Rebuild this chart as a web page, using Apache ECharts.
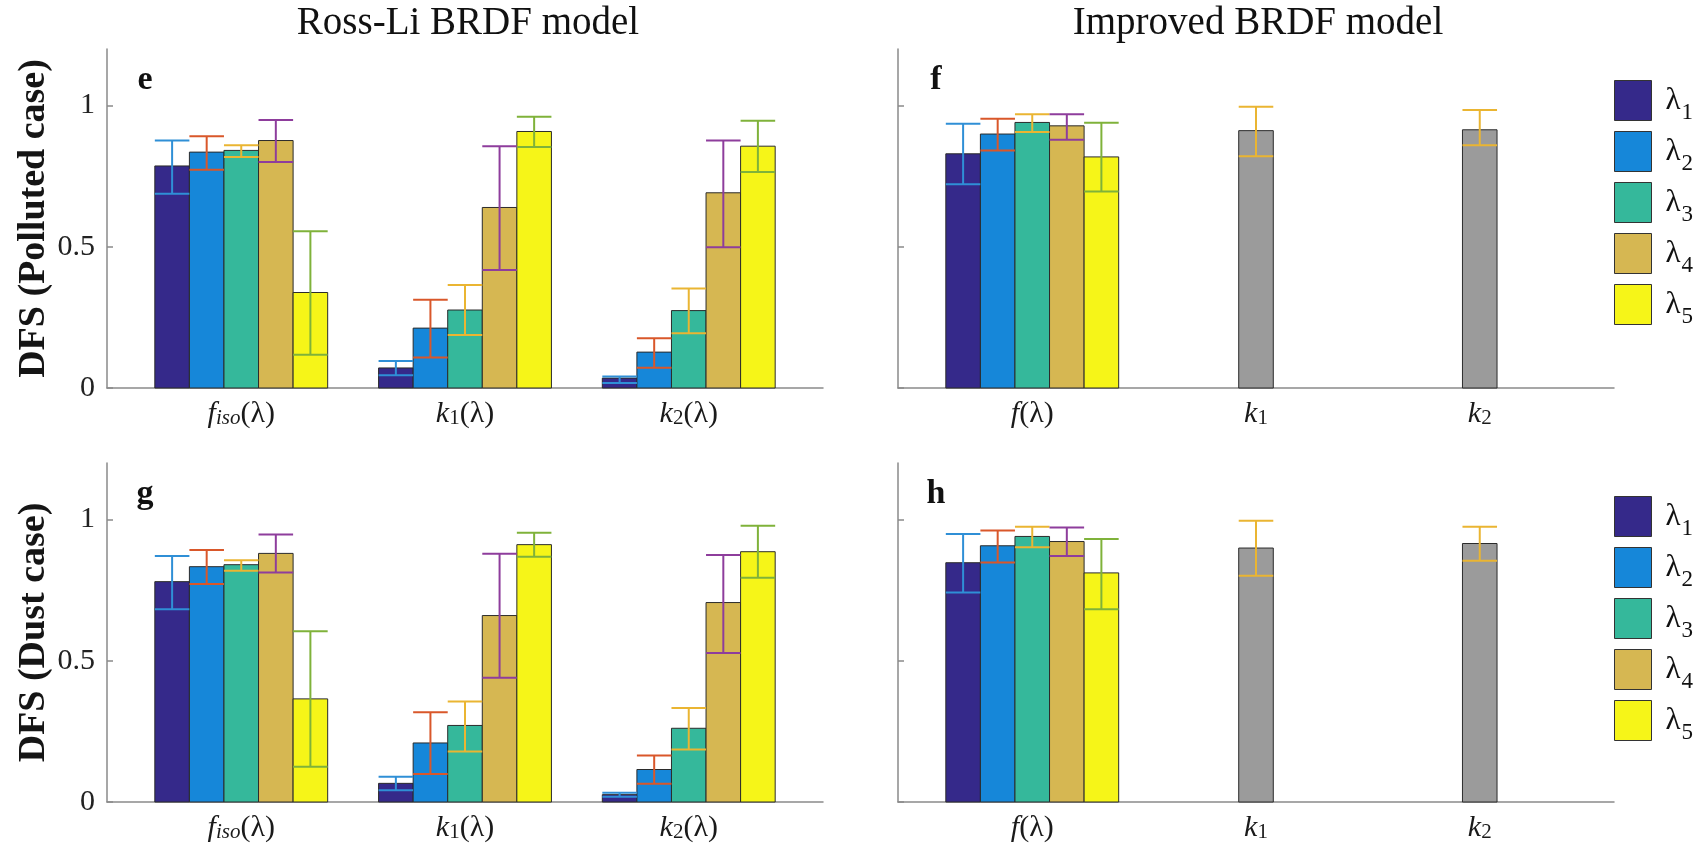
<!DOCTYPE html>
<html>
<head>
<meta charset="utf-8">
<script src="https://cdn.jsdelivr.net/npm/echarts@6/dist/echarts.min.js"></script>
<style>
html,body{margin:0;padding:0;background:#fff;}
#chart{width:1706px;height:851px;}
</style>
</head>
<body>
<div id="chart"></div>
<script>
// ---------------- data ----------------
const wavelengths = ['λ1', 'λ2', 'λ3', 'λ4', 'λ5'];
const categoryPositions = [1, 2, 3];
const rossLiLabels = ['{it|f}{subi|iso}{n|(λ)}', '{it|k}{subn|1}{n|(λ)}', '{it|k}{subn|2}{n|(λ)}'];
const improvedLabels = ['{it|f}{n|(λ)}', '{it|k}{subn|1}', '{it|k}{subn|2}'];
const yTickValues = [0, 0.5, 1];
const yTickLabels = ['0', '0.5', '1'];

// Polluted case, Ross-Li model: rows = wavelengths, columns = f_iso, k1, k2
const pollutedRossLiValue = [
  [0.786, 0.071, 0.035],
  [0.835, 0.212, 0.127],
  [0.841, 0.276, 0.274],
  [0.876, 0.639, 0.691],
  [0.338, 0.908, 0.856]
];
const pollutedRossLiLow = [
  [0.688, 0.045, 0.018],
  [0.773, 0.108, 0.072],
  [0.818, 0.188, 0.194],
  [0.800, 0.418, 0.498],
  [0.118, 0.853, 0.765]
];
const pollutedRossLiHigh = [
  [0.876, 0.096, 0.041],
  [0.891, 0.312, 0.176],
  [0.859, 0.365, 0.352],
  [0.949, 0.856, 0.876],
  [0.555, 0.960, 0.946]
];
// Polluted case, improved model
const pollutedImprovedF = [0.829, 0.899, 0.940, 0.928, 0.818];
const pollutedImprovedFLow = [0.721, 0.841, 0.906, 0.879, 0.696];
const pollutedImprovedFHigh = [0.935, 0.953, 0.969, 0.969, 0.939];
const pollutedImprovedK = [0.911, 0.914];
const pollutedImprovedKLow = [0.820, 0.859];
const pollutedImprovedKHigh = [0.996, 0.984];

// Dust case, Ross-Li model
const dustRossLiValue = [
  [0.780, 0.066, 0.026],
  [0.833, 0.209, 0.115],
  [0.840, 0.271, 0.261],
  [0.880, 0.660, 0.706],
  [0.365, 0.911, 0.886]
];
const dustRossLiLow = [
  [0.682, 0.042, 0.019],
  [0.772, 0.099, 0.065],
  [0.819, 0.179, 0.186],
  [0.812, 0.440, 0.527],
  [0.125, 0.868, 0.794]
];
const dustRossLiHigh = [
  [0.871, 0.089, 0.033],
  [0.892, 0.318, 0.165],
  [0.856, 0.356, 0.333],
  [0.947, 0.879, 0.874],
  [0.604, 0.953, 0.978]
];
// Dust case, improved model
const dustImprovedF = [0.847, 0.907, 0.940, 0.922, 0.811];
const dustImprovedFLow = [0.742, 0.848, 0.902, 0.871, 0.682];
const dustImprovedFHigh = [0.949, 0.961, 0.974, 0.972, 0.931];
const dustImprovedK = [0.899, 0.915];
const dustImprovedKLow = [0.801, 0.854];
const dustImprovedKHigh = [0.996, 0.974];

// ---------------- styles ----------------
const FONT = '"Liberation Serif", "Times New Roman", Times, serif';
const barColors = ['#35298a', '#1687d9', '#35b89b', '#d6b752', '#f6f518'];
const errColors = ['#2f8fd6', '#d9572a', '#eab532', '#8e3d9c', '#7fb23a'];
const grayColor = '#9b9b9b';
const grayErrColor = '#eab532';
const BAR_WIDTH = 0.1545;
const AXIS_COLOR = '#8a8a8a';

const gridLefts = [107, 898];
const gridTops = [49, 463];

function barErrorSeries(name, grid, cats, vals, lows, highs, slot, nSlots, fill, errColor) {
  return {
    type: 'custom',
    name: name,
    xAxisIndex: grid,
    yAxisIndex: grid,
    itemStyle: { color: fill, borderColor: '#2b2b2b', borderWidth: 1 },
    encode: { x: 0, y: 1 },
    data: cats.map((c, j) => [c, vals[j], lows[j], highs[j]]),
    renderItem: function (params, api) {
      const c = api.value(0), v = api.value(1), lo = api.value(2), hi = api.value(3);
      const cx = c + (slot - (nSlots - 1) / 2) * BAR_WIDTH;
      const tl = api.coord([cx - BAR_WIDTH / 2, v]);
      const br = api.coord([cx + BAR_WIDTH / 2, 0]);
      const top = api.coord([cx, hi]);
      const bot = api.coord([cx, lo]);
      const hw = (br[0] - tl[0]) / 2;
      const mid = top[0];
      const es = { stroke: errColor, lineWidth: 2 };
      return {
        type: 'group',
        children: [
          { type: 'rect', shape: { x: tl[0], y: tl[1], width: br[0] - tl[0], height: br[1] - tl[1] },
            style: { fill: fill, stroke: '#2b2b2b', lineWidth: 1 } },
          { type: 'line', shape: { x1: mid, y1: top[1], x2: mid, y2: bot[1] }, style: es, z2: 10 },
          { type: 'line', shape: { x1: mid - hw, y1: top[1], x2: mid + hw, y2: top[1] }, style: es, z2: 10 },
          { type: 'line', shape: { x1: mid - hw, y1: bot[1], x2: mid + hw, y2: bot[1] }, style: es, z2: 10 }
        ]
      };
    }
  };
}

const xRich = {
  it: { fontSize: 30, fontStyle: 'italic', fontFamily: FONT, color: '#1a1a1a', lineHeight: 30 },
  n: { fontSize: 30, fontFamily: FONT, color: '#1a1a1a', lineHeight: 30 },
  subi: { fontSize: 21, fontStyle: 'italic', fontFamily: FONT, color: '#1a1a1a', lineHeight: 20, padding: [14, 0, 0, 0], verticalAlign: 'bottom' },
  subn: { fontSize: 21, fontFamily: FONT, color: '#1a1a1a', lineHeight: 20, padding: [14, 0, 0, 0], verticalAlign: 'bottom' }
};

const grids = [], xAxes = [], yAxes = [];
const panels = [
  { labels: rossLiLabels, left: true, yName: 'DFS (Polluted case)' },
  { labels: improvedLabels, left: false, yName: '' },
  { labels: rossLiLabels, left: true, yName: 'DFS (Dust case)' },
  { labels: improvedLabels, left: false, yName: '' }
];
panels.forEach((p, g) => {
  grids.push({ left: gridLefts[g % 2], top: gridTops[Math.floor(g / 2)], width: 716, height: 339 });
  xAxes.push({
    gridIndex: g, type: 'value', min: 0.4, max: 3.6,
    axisLine: { show: true, onZero: false, lineStyle: { color: AXIS_COLOR, width: 1.5 } },
    axisTick: { show: false },
    splitLine: { show: false },
    axisLabel: {
      customValues: categoryPositions, margin: 11, rich: xRich, fontFamily: FONT,
      formatter: (v) => p.labels[categoryPositions.indexOf(Math.round(v))]
    }
  });
  yAxes.push({
    gridIndex: g, type: 'value', min: 0, max: 1.2,
    axisLine: { show: true, onZero: false, lineStyle: { color: AXIS_COLOR, width: 1.5 } },
    axisTick: { show: true, inside: true, length: 6, customValues: yTickValues, lineStyle: { color: AXIS_COLOR, width: 1.5 } },
    axisLabel: {
      show: p.left, customValues: yTickValues, margin: 12,
      formatter: (v) => yTickLabels[yTickValues.indexOf(v)],
      fontSize: 30, fontFamily: FONT, color: '#222'
    },
    splitLine: { show: false },
    name: p.yName, nameLocation: 'middle', nameGap: 52,
    nameTextStyle: { fontSize: 38, fontWeight: 'bold', fontFamily: FONT, color: '#151515' }
  });
});

const series = [];
wavelengths.forEach((w, i) => {
  series.push(barErrorSeries(w, 0, categoryPositions, pollutedRossLiValue[i], pollutedRossLiLow[i], pollutedRossLiHigh[i], i, 5, barColors[i], errColors[i]));
  series.push(barErrorSeries(w, 1, [categoryPositions[0]], [pollutedImprovedF[i]], [pollutedImprovedFLow[i]], [pollutedImprovedFHigh[i]], i, 5, barColors[i], errColors[i]));
  series.push(barErrorSeries(w, 2, categoryPositions, dustRossLiValue[i], dustRossLiLow[i], dustRossLiHigh[i], i, 5, barColors[i], errColors[i]));
  series.push(barErrorSeries(w, 3, [categoryPositions[0]], [dustImprovedF[i]], [dustImprovedFLow[i]], [dustImprovedFHigh[i]], i, 5, barColors[i], errColors[i]));
});
series.push(barErrorSeries('k', 1, categoryPositions.slice(1), pollutedImprovedK, pollutedImprovedKLow, pollutedImprovedKHigh, 0, 1, grayColor, grayErrColor));
series.push(barErrorSeries('k', 3, categoryPositions.slice(1), dustImprovedK, dustImprovedKLow, dustImprovedKHigh, 0, 1, grayColor, grayErrColor));

const legendTops = [77, 493];
const legends = legendTops.map((t) => ({
  orient: 'vertical', left: 1614, top: t, padding: 0,
  itemWidth: 37, itemHeight: 40, itemGap: 4, icon: 'rect',
  data: wavelengths.map((n, i) => ({ name: n, itemStyle: { color: barColors[i], borderColor: '#333', borderWidth: 1 } })),
  formatter: (n) => '{l|λ}{s|' + n.slice(1) + '}',
  textStyle: {
    fontFamily: FONT,
    height: 40,
    lineHeight: 40,
    rich: {
      l: { fontSize: 31, fontFamily: FONT, color: '#111', lineHeight: 40, padding: [0, 0, 0, 9] },
      s: { fontSize: 23, fontFamily: FONT, color: '#111', lineHeight: 40, padding: [24, 0, 0, 1] }
    }
  }
}));

function txt(x, y, text, size, weight) {
  return {
    type: 'text', x: x, y: y, silent: true,
    style: {
      text: text, fontSize: size, fontWeight: weight || 'normal', fontFamily: FONT, fill: '#111',
      textAlign: 'center', textVerticalAlign: 'middle', align: 'center', verticalAlign: 'middle'
    }
  };
}

const chart = echarts.init(document.getElementById('chart'));
chart.setOption({
  backgroundColor: '#fff',
  animation: false,
  textStyle: { fontFamily: FONT },
  grid: grids,
  xAxis: xAxes,
  yAxis: yAxes,
  legend: legends,
  series: series,
  graphic: [
    txt(468, 24, 'Ross-Li BRDF model', 39),
    txt(1258, 24, 'Improved BRDF model', 39),
    txt(145, 80, 'e', 34, 'bold'),
    txt(936, 80, 'f', 34, 'bold'),
    txt(145, 494, 'g', 34, 'bold'),
    txt(936, 494, 'h', 34, 'bold')
  ]
});
</script>
</body>
</html>
